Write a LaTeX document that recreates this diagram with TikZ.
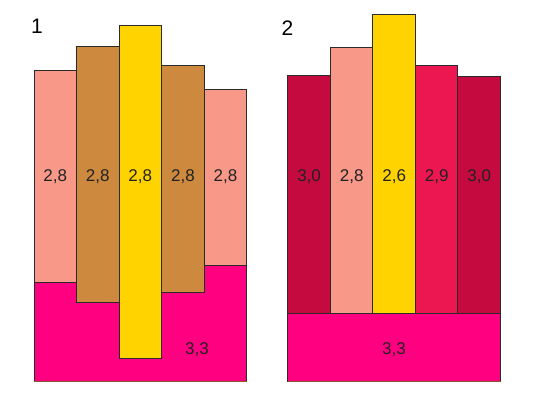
\documentclass[tikz,border=0pt]{standalone}
\usepackage{fontspec}
\setmainfont{Liberation Sans}
\definecolor{salmon}{HTML}{F79888}
\definecolor{brownbar}{HTML}{CD8A3E}
\definecolor{yellowbar}{HTML}{FFD300}
\definecolor{pinkbase}{HTML}{FF0080}
\definecolor{crimson}{HTML}{C50A40}
\definecolor{redpink}{HTML}{EC1651}
\definecolor{edge}{HTML}{2A2A2A}
\definecolor{txt}{HTML}{222222}
\tikzset{
  bar/.style={draw=edge, line width=0.9pt},
  val/.style={font=\fontsize{17}{17}\selectfont, text=txt, inner sep=0pt},
  num/.style={font=\fontsize{21}{21}\selectfont, text=black, inner sep=0pt},
}
\begin{document}
\begin{tikzpicture}[x=1pt,y=-1pt]
\useasboundingbox (0,0) rectangle (534,394);
\fill[white] (0,0) rectangle (534,394);
% ---------- Diagram 1 ----------
\path[bar, fill=pinkbase, draw=edge] (34,262) rectangle (246.5,381);
\draw[bar, draw=brown!70!black] (34,381) -- (246.5,381);
\path[bar, fill=salmon] (34,70) rectangle (76.5,282);
\path[bar, fill=salmon] (204.3,89.3) rectangle (246.5,265);
\path[bar, fill=brownbar] (76.5,46) rectangle (119,302);
\path[bar, fill=brownbar] (161.7,65.3) rectangle (204.3,292.7);
\path[bar, fill=yellowbar] (119,25.3) rectangle (161.7,358);
\node[num] (n1) at (37,26) {1};
\node[val] (a1) at (55.3,177) {2,8};
\node[val] (a2) at (97.8,177) {2,8};
\node[val] (a3) at (140.3,177) {2,8};
\node[val] (a4) at (183,177) {2,8};
\node[val] (a5) at (225.4,177) {2,8};
\node[val] (a6) at (197,350) {3,3};
% ---------- Diagram 2 ----------
\path[bar, fill=pinkbase] (287.5,313.3) rectangle (500.7,381);
\draw[bar, draw=brown!70!black] (287.5,381) -- (500.7,381);
\path[bar, fill=crimson] (287.5,75.3) rectangle (330.7,313.3);
\path[bar, fill=salmon] (330.7,47.3) rectangle (372.7,313.3);
\path[bar, fill=yellowbar] (372.7,14) rectangle (415.7,313.3);
\path[bar, fill=redpink] (415.7,65.3) rectangle (457.7,313.3);
\path[bar, fill=crimson] (457.7,76.3) rectangle (500.7,313.3);
\node[num] (n2) at (287.5,28) {2};
\node[val] (b1) at (309.1,177) {3,0};
\node[val] (b2) at (351.7,177) {2,8};
\node[val] (b3) at (394.2,177) {2,6};
\node[val] (b4) at (436.7,177) {2,9};
\node[val] (b5) at (479.2,177) {3,0};
\node[val] (b6) at (394,350) {3,3};
\end{tikzpicture}
\end{document}
